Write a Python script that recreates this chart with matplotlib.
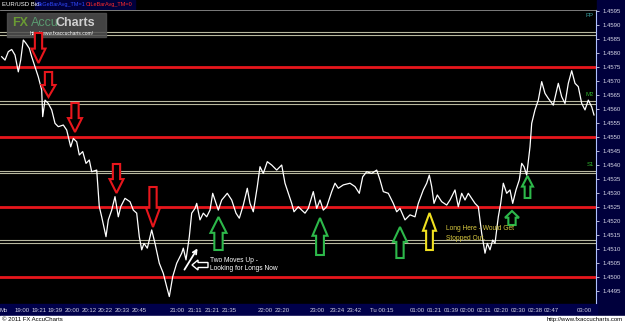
import matplotlib
matplotlib.use("Agg")
import matplotlib.pyplot as plt
from matplotlib.patches import Rectangle, Polygon

plt.rcParams['font.family'] = ['Liberation Sans', 'DejaVu Sans']

# ---- data (bar index along the tick chart, bid price) ----
bar_x = [1.7, 5, 8.3, 11.7, 15, 18.3, 20.7, 23.3, 26, 29.3, 31.7, 35, 38.3, 41.7, 42.7, 45, 48.3,
         51.7, 55, 58.3, 63.3, 66.7, 70.7, 73.3, 76.7, 79.3, 82.7, 86, 89.3, 91.7, 96.7, 99.3, 101.7,
         106, 108.3, 111.7, 115, 118.3, 120.7, 125, 130, 133.3, 136.7, 139.3, 141.7, 144, 147.3,
         151.7, 155, 159.3, 163.3, 166.7, 169.3, 172.7, 176.7, 181.7, 183.3, 186, 189.3, 191.7, 195,
         196.7, 200, 203.3, 206.7, 210, 212.7, 216, 218.3, 221.7, 227.3, 231.7, 236, 239.3, 243.3,
         247.3, 250, 253.3, 257.3, 260, 263.3, 267.3, 271.7, 276.7, 281.7, 285, 288.3, 291.7, 294,
         298.3, 301.7, 305, 308.3, 313.3, 316.7, 320, 323.3, 326.7, 331.7, 335, 338.3, 343.3, 350,
         355, 359.3, 362.7, 366.7, 371.7, 376.7, 380, 383.3, 388.3, 393.3, 396.7, 400, 405, 410, 415,
         418.3, 423.3, 426.7, 429.3, 431.7, 434, 437.3, 441.7, 446.7, 450, 455, 458.3, 461.7, 465,
         468.3, 471.7, 475, 478.3, 481.7, 485, 487.3, 490, 492.7, 495, 498.3, 500.7, 503.3, 506.7,
         510, 512.7, 516, 519.3, 521.7, 524, 526.7, 530, 531.7, 535, 538.3, 541.7, 545, 548.3, 553.3,
         558.3, 561.7, 565, 568.3, 571.7, 575, 578.3, 581.7, 585, 588.3, 591.7, 594]
bid = [1.45788, 1.45776, 1.45806, 1.45814, 1.45794, 1.45734, 1.45776, 1.45848, 1.45836, 1.45818,
       1.45788, 1.45752, 1.45716, 1.45669, 1.45574, 1.45633, 1.45621, 1.45598, 1.45550, 1.45538,
       1.45544, 1.45526, 1.45466, 1.45496, 1.45484, 1.45437, 1.45449, 1.45407, 1.45419, 1.45377,
       1.45383, 1.45252, 1.45216, 1.45145, 1.45205, 1.45240, 1.45288, 1.45216, 1.45252, 1.45282,
       1.45270, 1.45240, 1.45229, 1.45145, 1.45098, 1.45121, 1.45104, 1.45169, 1.45121, 1.45050,
       1.45014, 1.44966, 1.44931, 1.45002, 1.45050, 1.45086, 1.45104, 1.45062, 1.45145, 1.45229,
       1.45246, 1.45264, 1.45205, 1.45229, 1.45216, 1.45240, 1.45300, 1.45264, 1.45240, 1.45276,
       1.45300, 1.45276, 1.45229, 1.45211, 1.45258, 1.45318, 1.45264, 1.45234, 1.45324, 1.45395,
       1.45371, 1.45413, 1.45401, 1.45383, 1.45401, 1.45336, 1.45300, 1.45264, 1.45234, 1.45252,
       1.45240, 1.45229, 1.45246, 1.45306, 1.45246, 1.45276, 1.45240, 1.45252, 1.45306, 1.45336,
       1.45318, 1.45330, 1.45336, 1.45324, 1.45300, 1.45359, 1.45377, 1.45371, 1.45383, 1.45348,
       1.45306, 1.45300, 1.45264, 1.45234, 1.45246, 1.45205, 1.45223, 1.45216, 1.45264, 1.45312,
       1.45336, 1.45365, 1.45324, 1.45264, 1.45294, 1.45270, 1.45258, 1.45276, 1.45312, 1.45252,
       1.45300, 1.45276, 1.45300, 1.45282, 1.45264, 1.45252, 1.45157, 1.45086, 1.45121, 1.45098,
       1.45133, 1.45121, 1.45216, 1.45264, 1.45336, 1.45300, 1.45312, 1.45264, 1.45312, 1.45348,
       1.45407, 1.45395, 1.45365, 1.45466, 1.45550, 1.45598, 1.45633, 1.45699, 1.45657, 1.45639,
       1.45615, 1.45693, 1.45645, 1.45621, 1.45693, 1.45738, 1.45693, 1.45681, 1.45621, 1.45598,
       1.45633, 1.45609, 1.45580]

red_levels = [1.4575, 1.4550, 1.4525, 1.4500]
pivot_levels = [[1.45877, 1.45865], [1.45630, 1.45619], [1.45381, 1.45372], [1.45133, 1.45121]]
pivot_names = ['PP', 'M2', 'S1', '']
price_ticks = [1.4495, 1.4500, 1.4505, 1.4510, 1.4515, 1.4520, 1.4525, 1.4530, 1.4535, 1.4540,
               1.4545, 1.4550, 1.4555, 1.4560, 1.4565, 1.4570, 1.4575, 1.4580, 1.4585, 1.4590, 1.4595]
time_labels = ['Mo', '19:00', '19:21', '19:39', '20:00', '20:12', '20:22', '20:33', '20:45', '21:00',
               '21:11', '21:21', '21:35', '22:00', '22:20', '23:00', '23:24', '23:42', 'Tu 00:15',
               '01:00', '01:21', '01:39', '02:00', '02:11', '02:20', '02:30', '02:38', '02:47', '03:00']
time_pos = [0, 15, 32, 48, 65, 82, 98, 115, 132, 170, 188, 205, 222, 258, 275, 310, 330, 347, 370,
            410, 427, 444, 460, 477, 494, 511, 528, 544, 577]

W, H = 625, 323
fig = plt.figure(figsize=(W / 100, H / 100), dpi=100, facecolor='black')

# ---- background panels (pixel coordinates) ----
bg = fig.add_axes([0, 0, 1, 1])
bg.set_xlim(0, W)
bg.set_ylim(H, 0)
bg.axis('off')
bg.set_zorder(-1)
bg.add_patch(Rectangle((596.5, 0), W - 596.5, 316, color='#00003c'))
bg.add_patch(Rectangle((0, 303.5), 597, 12.5, color='#00004a'))
bg.add_patch(Rectangle((0, 316), W, 7, color='white'))
bg.add_patch(Rectangle((35, 0), 100, 9, color='#00003c'))

ax = fig.add_axes([0, 20 / H, 596 / W, 293 / H])
ax.set_facecolor('black')
ax.set_xlim(0, 596)
ax.set_ylim(1.44908, 1.45955)

for lv in red_levels:
    ax.axhline(lv, color='#e8161c', lw=2.0, zorder=2)
for pair in pivot_levels:
    for lv in pair:
        ax.axhline(lv, color='#b8b8a0', lw=0.8, zorder=2)
ax.plot(bar_x, bid, color='white', lw=0.9, zorder=4)

pv_col = {'PP': '#3aa0a0', 'M2': '#2fb52f', 'S1': '#2fb52f'}
for pair, nm in zip(pivot_levels, pivot_names):
    if nm == 'PP':
        ax.text(594, 1.45935, nm, color=pv_col[nm], fontsize=4.3, ha='right', va='center', zorder=5)
    elif nm:
        ax.text(594, pair[0] + 0.00022, nm, color=pv_col[nm], fontsize=4.3, ha='right', va='center', zorder=5)

ax.yaxis.tick_right()
ax.set_yticks(price_ticks)
ax.set_yticklabels([f'{v:.4f}' for v in price_ticks])
ax.tick_params(axis='y', colors='#d8d8e8', labelsize=4.3, length=2, width=0.6, pad=2.5)
ax.set_xticks(time_pos)
ax.set_xticklabels(time_labels)
for lbl in ax.get_xticklabels():
    lbl.set_ha('left')
ax.tick_params(axis='x', colors='#d0d0e0', labelsize=4.3, length=0, pad=3.5)
for s in ['left', 'bottom', 'top']:
    ax.spines[s].set_visible(False)
ax.spines['right'].set_color('#b0c0ff')
ax.spines['right'].set_linewidth(0.8)

# ---- foreground overlay in pixel coordinates ----
ov = fig.add_axes([0, 0, 1, 1])
ov.set_xlim(0, W)
ov.set_ylim(H, 0)
ov.axis('off')
ov.patch.set_alpha(0)
ov.set_zorder(10)

ov.plot([0, 596], [10, 10], color='#909090', lw=0.6)
ov.text(2, 4.8, 'EUR/USD Bid', color='white', fontsize=4.3, va='center')
ov.text(37, 4.8, 'SkGeBarAvg_TM=1', color='#3048ff', fontsize=4.0, va='center')
ov.text(86, 4.8, 'CtLeBarAvg_TM=0', color='#ff2a2a', fontsize=4.0, va='center')
ov.text(2, 319.8, '\u00a9 2011 FX AccuCharts', color='black', fontsize=4.3, va='center')
ov.text(623, 319.8, 'http://www.fxaccucharts.com', color='black', fontsize=4.3, va='center', ha='right')

# watermark logo
ov.add_patch(Rectangle((7, 13), 99, 24, color='#505050', alpha=0.85, zorder=1))
ov.text(12, 23, 'FX', color='#6a9a34', fontsize=9, fontweight='bold', va='center', zorder=2)
ov.text(30.5, 23, 'Accu', color='#5a9a70', fontsize=9, va='center', zorder=2)
ov.text(55.5, 23, 'Charts', color='#d0d0d0', fontsize=9, fontweight='bold', va='center', zorder=2)
ov.text(30, 33.5, 'http://www.fxaccucharts.com/', color='white', fontsize=3.5, va='center', zorder=2)


def arrow(cx, ytop, ybot, w, up, color):
    sw = w * 0.52
    L = ybot - ytop
    if up:
        yh = ytop + 0.48 * L
        pts = [(cx, ytop), (cx + w / 2, yh), (cx + sw / 2, yh), (cx + sw / 2, ybot),
               (cx - sw / 2, ybot), (cx - sw / 2, yh), (cx - w / 2, yh)]
    else:
        yh = ybot - 0.48 * L
        pts = [(cx - sw / 2, ytop), (cx + sw / 2, ytop), (cx + sw / 2, yh), (cx + w / 2, yh),
               (cx, ybot), (cx - w / 2, yh), (cx - sw / 2, yh)]
    ov.add_patch(Polygon(pts, closed=True, facecolor='black', edgecolor=color, lw=1.5, zorder=3))


red = '#e8161c'
green = '#2db84a'
for cx, t, b in [(38.5, 33, 63), (48.5, 72, 97), (75, 103, 132), (116.5, 164, 193), (153, 187, 227)]:
    arrow(cx, t, b, 14, False, red)
for cx, t, b, w in [(218.5, 217, 250, 16), (320, 218, 255, 15), (400, 227, 258, 14),
                    (512, 211, 225, 14), (527.5, 176, 198, 11)]:
    arrow(cx, t, b, w, True, green)
arrow(429.5, 213, 250, 13, True, '#f0e020')

# white annotation arrows
ov.annotate('', xy=(199, 246), xytext=(183, 272),
            arrowprops=dict(arrowstyle='->', color='white', lw=1.3, mutation_scale=7))
pts = [(192, 265), (198, 260), (198, 262.5), (208, 262.5), (208, 267.5), (198, 267.5), (198, 270)]
ov.add_patch(Polygon(pts, closed=True, facecolor='black', edgecolor='white', lw=1.0, zorder=3))
ov.text(210.5, 260, 'Two Moves Up -', color='white', fontsize=4.8, va='center')
ov.text(210.5, 269, 'Looking for Longs Now', color='white', fontsize=4.8, va='center')
ov.text(446.5, 229, 'Long Here - Would Get', color='#d8c840', fontsize=4.8, va='center')
ov.text(446.5, 238.5, 'Stopped Out.', color='#d8c840', fontsize=4.8, va='center')

fig.savefig('out.png', dpi=100, facecolor='black')
